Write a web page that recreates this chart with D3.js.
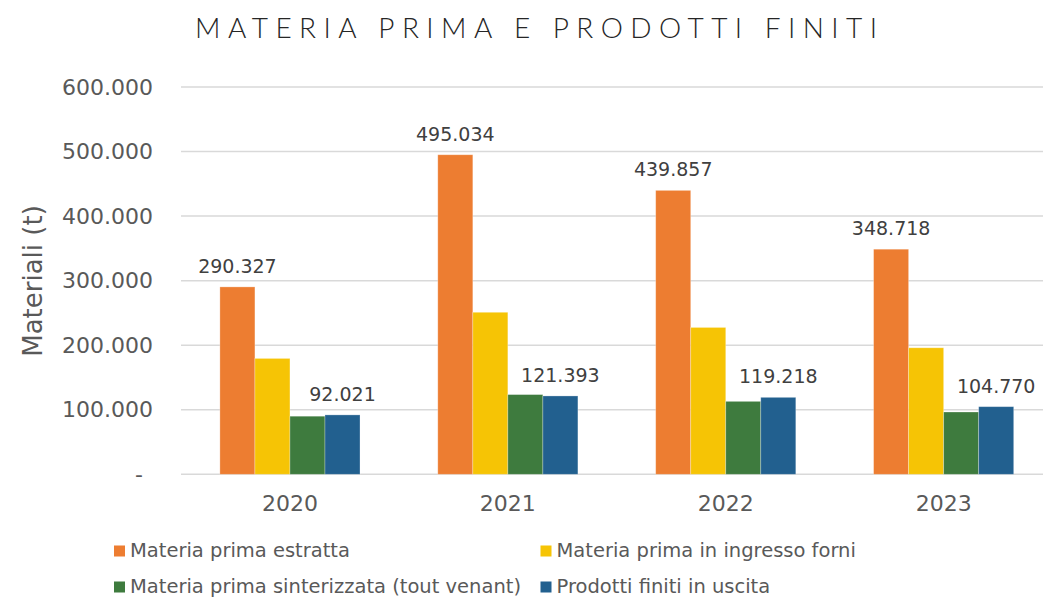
<!DOCTYPE html>
<html>
<head>
<meta charset="utf-8">
<script src="https://cdn.jsdelivr.net/npm/d3@7"></script>
<style>
  html, body { margin: 0; padding: 0; background: #fff; }
  svg { display: block; }
</style>
</head>
<body>
<svg id="chart" width="1043" height="599"></svg>
<script>
const title = "MATERIA PRIMA E PRODOTTI FINITI";
const yAxisTitle = "Materiali (t)";
const years = ["2020", "2021", "2022", "2023"];
const seriesNames = [
  "Materia prima estratta",
  "Materia prima in ingresso forni",
  "Materia prima sinterizzata (tout venant)",
  "Prodotti finiti in uscita"
];
const seriesColors = ["#ED7D31", "#F6C405", "#3E7B3E", "#22608F"];
const estratta = [290327, 495034, 439857, 348718];
const ingressoForni = [179500, 251000, 227500, 196000];
const sinterizzata = [90000, 123500, 113000, 96500];
const prodottiFiniti = [92021, 121393, 119218, 104770];
const labelledSeries = [0, 3];
const yTicks = [0, 100000, 200000, 300000, 400000, 500000, 600000];

const seriesValues = [estratta, ingressoForni, sinterizzata, prodottiFiniti];

const svg = d3.select("#chart");
svg.append("rect").attr("width", 1043).attr("height", 599).attr("fill", "#fff");

const locale = d3.formatLocale({decimal: ",", thousands: ".", grouping: [3], currency: ["", "€"]});
const fmt = locale.format(",.0f");

const x0 = d3.scaleBand().domain(years).range([181, 1052.6])
  .paddingInner(0.357).paddingOuter(0.1785);
const x1 = d3.scaleBand().domain(d3.range(seriesNames.length)).range([0, x0.bandwidth()]);
const y = d3.scaleLinear().domain([0, 600000]).range([474.3, 87]);

// gridlines
svg.append("g").selectAll("line").data(yTicks).join("line")
  .attr("x1", 181).attr("x2", 1052.6)
  .attr("y1", d => y(d)).attr("y2", d => y(d))
  .attr("stroke", "#D9D9D9").attr("stroke-width", 1.5);

// y axis
const yAxis = svg.append("g").attr("transform", "translate(181,0)")
  .call(d3.axisLeft(y).tickValues(yTicks).tickSize(0).tickPadding(28)
    .tickFormat(d => d === 0 ? "-" : fmt(d)));
yAxis.select(".domain").remove();
yAxis.selectAll("text")
  .attr("font-family", "DejaVu Sans").attr("font-size", 22).attr("fill", "#595959")
  .attr("dx", d => d === 0 ? -10 : 0);

// x axis
const xAxis = svg.append("g").attr("transform", "translate(0,474.3)")
  .call(d3.axisBottom(x0).tickSize(0).tickPadding(21));
xAxis.select(".domain").remove();
xAxis.selectAll("text")
  .attr("font-family", "DejaVu Sans").attr("font-size", 22).attr("fill", "#595959");

// bars
const groups = svg.append("g").selectAll("g").data(years).join("g")
  .attr("transform", d => `translate(${x0(d)},0)`);
groups.selectAll("rect")
  .data((yr, i) => seriesValues.map((vals, s) => ({s, v: vals[i]})))
  .join("rect")
  .attr("x", d => x1(d.s)).attr("width", x1.bandwidth())
  .attr("y", d => y(d.v)).attr("height", d => y(0) - y(d.v))
  .attr("fill", d => seriesColors[d.s])
  .attr("stroke", "#ffffff").attr("stroke-opacity", 0.35).attr("stroke-width", 0.8);

// data labels
groups.selectAll("text.val")
  .data((yr, i) => labelledSeries.map(s => ({s, v: seriesValues[s][i]})))
  .join("text").attr("class", "val")
  .attr("x", d => x1(d.s) + x1.bandwidth() / 2)
  .attr("y", d => y(d.v) - 14)
  .attr("text-anchor", "middle")
  .attr("font-family", "DejaVu Sans").attr("font-size", 19).attr("fill", "#404040")
  .text(d => fmt(d.v));

// y axis title
svg.append("text")
  .attr("transform", "translate(41.5,281) rotate(-90)")
  .attr("text-anchor", "middle")
  .attr("font-family", "DejaVu Sans").attr("font-size", 26).attr("fill", "#595959")
  .text(yAxisTitle);

// title
const t = svg.append("text")
  .attr("x", 195).attr("y", 38)
  .attr("font-family", "Lato").attr("font-weight", 300).attr("font-size", 28)
  .attr("fill", "#262626")
  .text(title);
const w0 = t.node().getComputedTextLength();
const ls = (682 - w0) / (title.length - 1);
t.attr("letter-spacing", ls);

// legend
const legendPos = [[114, 551], [540.5, 551], [114, 587], [540.5, 587]];
const leg = svg.append("g").selectAll("g").data(seriesNames).join("g")
  .attr("transform", (d, i) => `translate(${legendPos[i][0]},${legendPos[i][1]})`);
leg.append("rect").attr("x", 0).attr("y", -5.5).attr("width", 11).attr("height", 11)
  .attr("fill", (d, i) => seriesColors[i]);
leg.append("text").attr("x", 16).attr("y", 6)
  .attr("font-family", "DejaVu Sans").attr("font-size", 19.5).attr("fill", "#595959")
  .text(d => d);
</script>
</body>
</html>
